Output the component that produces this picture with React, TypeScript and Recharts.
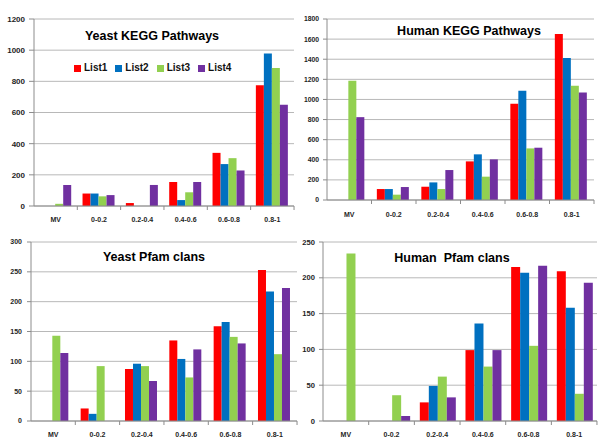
import React from 'react';
import { BarChart, Bar, XAxis, YAxis, CartesianGrid, Legend } from 'recharts';

const categories = ['MV', '0-0.2', '0.2-0.4', '0.4-0.6', '0.6-0.8', '0.8-1'];
const seriesNames = ['List1', 'List2', 'List3', 'List4'];
const seriesColors = ['#ff0000', '#0070c0', '#92d050', '#7030a0'];

const yeastKeggList1 = [0, 80, 19, 154, 341, 775];
const yeastKeggList2 = [0, 80, 0, 38, 269, 978];
const yeastKeggList3 = [14, 62, 0, 88, 307, 886];
const yeastKeggList4 = [135, 70, 135, 154, 228, 649];
const yeastKeggTicks = [0, 200, 400, 600, 800, 1000, 1200];

const humanKeggList1 = [0, 109, 132, 384, 957, 1652];
const humanKeggList2 = [0, 109, 175, 454, 1086, 1411];
const humanKeggList3 = [1185, 53, 109, 232, 513, 1136];
const humanKeggList4 = [824, 129, 298, 404, 520, 1070];
const humanKeggTicks = [0, 200, 400, 600, 800, 1000, 1200, 1400, 1600, 1800];

const yeastPfamList1 = [0, 21, 87, 135, 159, 253];
const yeastPfamList2 = [0, 12, 96, 104, 166, 217];
const yeastPfamList3 = [143, 92, 92, 73, 141, 112];
const yeastPfamList4 = [114, 0, 67, 120, 130, 223];
const yeastPfamTicks = [0, 50, 100, 150, 200, 250, 300];

const humanPfamList1 = [0, 0, 26, 99, 215, 209];
const humanPfamList2 = [0, 0, 49, 136, 207, 158];
const humanPfamList3 = [234, 36, 62, 76, 105, 38];
const humanPfamList4 = [0, 7, 33, 99, 217, 193];
const humanPfamTicks = [0, 50, 100, 150, 200, 250];

function buildRows(lists: number[][]) {
  return categories.map((cat, i) => {
    const row: any = { cat };
    seriesNames.forEach((s, j) => {
      row[s] = lists[j][i];
    });
    return row;
  });
}

const axisGray = '#8c8c8c';
const gridGray = '#b8b8b8';
const textColor = '#1e1e1e';

const makeXTick = (half: number, n: number, offset: number) => (props: any) => {
  const { x, y, payload, index } = props;
  return (
    <g>
      <text
        x={x}
        y={y + offset}
        textAnchor="middle"
        dominantBaseline="central"
        fontSize={7}
        fontWeight="bold"
        fill={textColor}
      >
        {payload.value}
      </text>
      {index > 0 && <line x1={x - half} x2={x - half} y1={y} y2={y + 4} stroke={axisGray} />}
      {index === n - 1 && <line x1={x + half} x2={x + half} y1={y} y2={y + 4} stroke={axisGray} />}
    </g>
  );
};

const LegendContent = (props: any) => {
  const { payload } = props;
  return (
    <div style={{ display: 'flex', alignItems: 'center', whiteSpace: 'nowrap' }}>
      {(payload || []).map((p: any) => (
        <div key={p.value} style={{ display: 'flex', alignItems: 'center', marginRight: 8 }}>
          <div style={{ width: 7, height: 7, background: p.color, marginRight: 3 }} />
          <span style={{ fontSize: 10, fontWeight: 'bold', color: '#111', lineHeight: '12px' }}>{p.value}</span>
        </div>
      ))}
    </div>
  );
};

type PanelProps = {
  left: number;
  top: number;
  width: number;
  height: number;
  marginTop: number;
  marginRight: number;
  yAxisWidth: number;
  xAxisHeight: number;
  yTickSize: number;
  yTickMargin: number;
  yFontSize: number;
  xLabelOffset: number;
  half: number;
  data: any[];
  ticks: number[];
  title: string;
  titleX: number;
  titleY: number;
  showLegend?: boolean;
};

function Panel(p: PanelProps) {
  const max = p.ticks[p.ticks.length - 1];
  return (
    <div style={{ position: 'absolute', left: p.left, top: p.top, width: p.width, height: p.height }}>
      <BarChart
        width={p.width}
        height={p.height}
        data={p.data}
        margin={{ top: p.marginTop, right: p.marginRight, left: 0, bottom: 0 }}
        barCategoryGap="12%"
        barGap={0}
      >
        <CartesianGrid vertical={false} stroke={gridGray} />
        <XAxis
          dataKey="cat"
          height={p.xAxisHeight}
          interval={0}
          tickLine={false}
          tickSize={0}
          tickMargin={0}
          axisLine={{ stroke: axisGray }}
          tick={makeXTick(p.half, categories.length, p.xLabelOffset)}
        />
        <YAxis
          width={p.yAxisWidth}
          domain={[0, max]}
          ticks={p.ticks}
          interval={0}
          tickSize={p.yTickSize}
          tickMargin={p.yTickMargin}
          axisLine={{ stroke: axisGray }}
          tickLine={{ stroke: axisGray }}
          tick={{ fontSize: p.yFontSize, fontWeight: 'bold', fill: textColor }}
        />
        {p.showLegend && (
          <Legend
            layout="horizontal"
            verticalAlign="middle"
            align="center"
            content={<LegendContent />}
            wrapperStyle={{ left: 74, top: 62, width: 'auto' }}
          />
        )}
        {seriesNames.map((s, i) => (
          <Bar key={s} dataKey={s} name={s} fill={seriesColors[i]} isAnimationActive={false} />
        ))}
      </BarChart>
      <div
        style={{
          position: 'absolute',
          left: p.titleX - p.left,
          top: p.titleY - p.top - 7,
          transform: 'translateX(-50%)',
          fontSize: 12.5,
          fontWeight: 'bold',
          lineHeight: '14px',
          whiteSpace: 'pre',
          color: '#000',
        }}
      >
        {p.title}
      </div>
    </div>
  );
}

export default function App() {
  const yeastKegg = buildRows([yeastKeggList1, yeastKeggList2, yeastKeggList3, yeastKeggList4]);
  const humanKegg = buildRows([humanKeggList1, humanKeggList2, humanKeggList3, humanKeggList4]);
  const yeastPfam = buildRows([yeastPfamList1, yeastPfamList2, yeastPfamList3, yeastPfamList4]);
  const humanPfam = buildRows([humanPfamList1, humanPfamList2, humanPfamList3, humanPfamList4]);
  return (
    <div
      style={{
        position: 'absolute',
        left: 0,
        top: 0,
        width: 600,
        height: 447,
        background: '#fff',
        fontFamily: '"Liberation Sans", Arial, sans-serif',
        overflow: 'hidden',
      }}
    >
      <Panel
        left={0} top={0} width={300} height={225}
        marginTop={19} marginRight={6} yAxisWidth={34} xAxisHeight={19}
        yTickSize={5} yTickMargin={4} yFontSize={8} xLabelOffset={13} half={21.7}
        data={yeastKegg} ticks={yeastKeggTicks}
        title="Yeast KEGG Pathways" titleX={152} titleY={36} showLegend
      />
      <Panel
        left={300} top={0} width={300} height={225}
        marginTop={19} marginRight={6} yAxisWidth={27} xAxisHeight={25}
        yTickSize={4} yTickMargin={4} yFontSize={6.8} xLabelOffset={14.5} half={22.25}
        data={humanKegg} ticks={humanKeggTicks}
        title="Human KEGG Pathways" titleX={469} titleY={31}
      />
      <Panel
        left={0} top={225} width={300} height={222}
        marginTop={17} marginRight={3} yAxisWidth={31} xAxisHeight={26}
        yTickSize={4} yTickMargin={5} yFontSize={7} xLabelOffset={13.5} half={22.2}
        data={yeastPfam} ticks={yeastPfamTicks}
        title="Yeast Pfam clans" titleX={154} titleY={257}
      />
      <Panel
        left={300} top={225} width={300} height={222}
        marginTop={17} marginRight={3} yAxisWidth={23} xAxisHeight={26}
        yTickSize={4} yTickMargin={4} yFontSize={7.6} xLabelOffset={13} half={22.8}
        data={humanPfam} ticks={humanPfamTicks}
        title="Human  Pfam clans" titleX={452} titleY={258}
      />
    </div>
  );
}
